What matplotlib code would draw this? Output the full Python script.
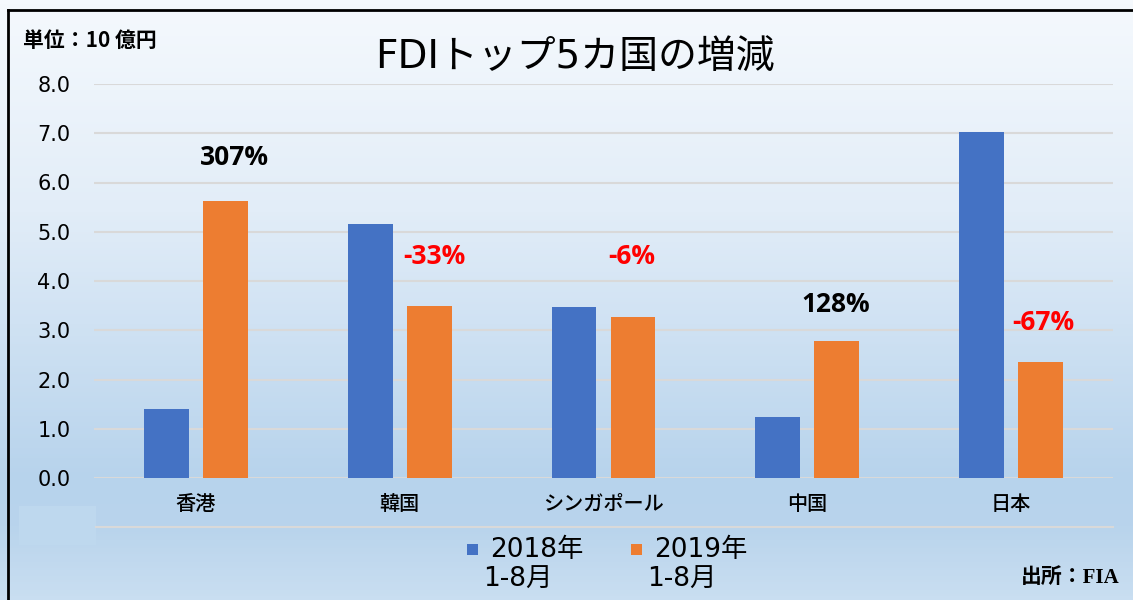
import matplotlib
matplotlib.use("Agg")
import matplotlib.pyplot as plt
import numpy as np
from matplotlib.patches import Rectangle
from matplotlib.lines import Line2D
from matplotlib.colors import LinearSegmentedColormap

plt.rcParams['font.family'] = ['Noto Sans CJK JP', 'DejaVu Sans']
WIDE = ['DejaVu Sans', 'Noto Sans CJK JP']

# ---- data ----
categories = ["香港", "韓国", "シンガポール", "中国", "日本"]
values_2018 = [1.40, 5.16, 3.47, 1.24, 7.03]
values_2019 = [5.62, 3.49, 3.27, 2.78, 2.36]
series_names = ["2018年\n1-8月", "2019年\n1-8月"]
change_labels = ["307%", "-33%", "-6%", "128%", "-67%"]
change_colors = ["black", "red", "red", "black", "red"]
label_dx = [0.19, 0.17, 0.14, 0.14, 0.16]
label_y = [6.50, 4.49, 4.49, 3.53, 3.15]
yticks = [0, 1, 2, 3, 4, 5, 6, 7, 8]
ytick_labels = ["0.0", "1.0", "2.0", "3.0", "4.0", "5.0", "6.0", "7.0", "8.0"]

W, H = 1133, 600
fig = plt.figure(figsize=(W / 100, H / 100), dpi=100)

# background gradient
bg = fig.add_axes([0, 0, 1, 1], zorder=-10)
cmap = LinearSegmentedColormap.from_list(
    "bg", [(0.0, "#f5f9fd"), (0.35, "#e2edf8"), (0.8, "#b7d3ec"), (0.88, "#b9d4ec"), (1.0, "#c9def1")])
grad = np.linspace(0, 1, 300).reshape(-1, 1)
bg.imshow(grad, aspect="auto", cmap=cmap, extent=[0, 1, 0, 1], origin="upper")
bg.set_xlim(0, 1); bg.set_ylim(0, 1)
bg.axis("off")
# border
bg.add_line(Line2D([8 / W, 8 / W], [0, 1 - 10 / H], color="black", lw=2))
bg.add_line(Line2D([8 / W, 1], [1 - 10 / H, 1 - 10 / H], color="black", lw=2))
# lighter patch and extra line below category labels
bg.add_patch(Rectangle((19 / W, 1 - 545 / H), 77 / W, 39 / H, color="#bed8ee", lw=0))
bg.add_line(Line2D([96 / W, 1113 / W], [1 - 527 / H, 1 - 527 / H], color="#d9d9d9", lw=1.5))

# main axes
left, right = 94 / W, 1113 / W
bottom, top = 1 - 478 / H, 1 - 84 / H
ax = fig.add_axes([left, bottom, right - left, top - bottom])
ax.patch.set_alpha(0)
x = np.arange(len(categories))
bw = 0.22
off = 0.145
ax.bar(x - off, values_2018, bw, color="#4472c4", zorder=3)
ax.bar(x + off, values_2019, bw, color="#ed7d31", zorder=3)
ax.set_xlim(-0.5, len(categories) - 0.5)
ax.set_ylim(0, 8)
ax.set_yticks(yticks)
ax.set_yticklabels(ytick_labels, fontsize=15, family=WIDE)
ax.yaxis.grid(True, color="#d9d9d9", lw=1.5, zorder=0)
ax.set_axisbelow(True)
for s in ax.spines.values():
    s.set_visible(False)
ax.tick_params(axis="x", length=0, pad=12)
ax.set_xticks(x)
ax.set_xticklabels(categories, fontsize=14.5, fontweight="medium")
for t in ax.get_yticklabels():
    t.set_horizontalalignment("center")
ax.tick_params(axis="y", length=0, pad=40)

for i, (lab, col) in enumerate(zip(change_labels, change_colors)):
    ax.text(x[i] + label_dx[i], label_y[i], lab, color=col, fontsize=19,
            fontweight="bold", ha="center", va="center", family=["Open Sans", "DejaVu Sans"])

# title and notes
fig.text(575 / W, 1 - 57 / H, "FDIトップ5カ国の増減", fontsize=28, ha="center", va="center",
         family=WIDE)
fig.text(23 / W, 1 - 40 / H, "単位：10 億円", fontsize=15, fontweight="bold", ha="left", va="center")
fig.text(1120 / W, 1 - 578 / H, "出所：FIA", fontsize=15, fontweight="bold", ha="right", va="center",
         family=['Liberation Serif', 'Noto Sans CJK JP'])

# legend
colors = ["#4472c4", "#ed7d31"]
leg_x = [467, 631]
for name, c, lx in zip(series_names, colors, leg_x):
    bg.add_patch(Rectangle((lx / W, 1 - 555 / H), 11 / W, 11 / H, color=c, lw=0))
    line1, line2 = name.split("\n")
    fig.text((lx + 23) / W, 1 - 550 / H, line1, fontsize=19, ha="left", va="center", family=WIDE)
    fig.text((lx + 16) / W, 1 - 580 / H, line2, fontsize=19, ha="left", va="center", family=WIDE)

fig.canvas.draw()
# center y tick labels around x=54 px
for t in ax.get_yticklabels():
    t.set_x(0)
ax.tick_params(axis="y", pad=(94 - 54) * 72 / 100)

fig.savefig("out.png", dpi=100)
